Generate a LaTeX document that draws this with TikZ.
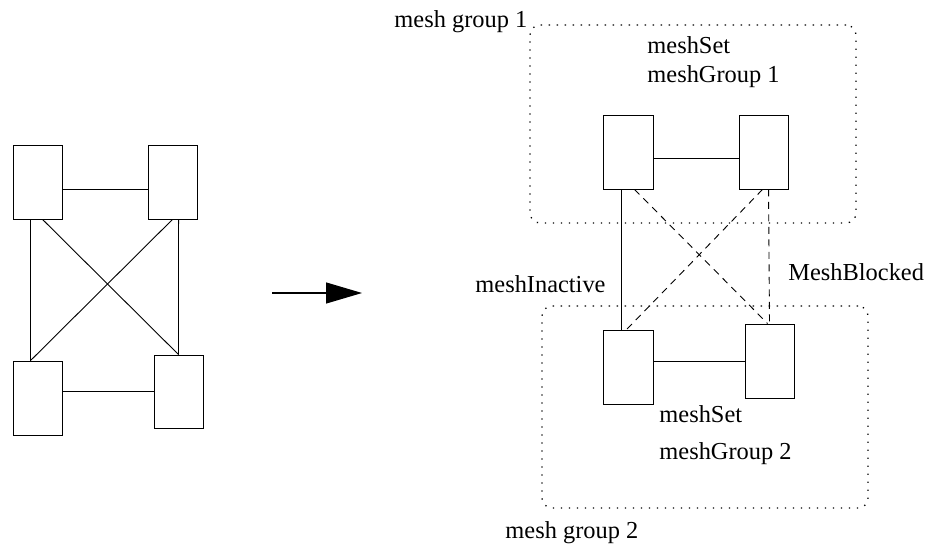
\documentclass[tikz,border=0pt]{standalone}
\usepackage{fontspec}
\setmainfont{Liberation Serif}
\usetikzlibrary{arrows.meta}
\begin{document}
\begin{tikzpicture}[x=1pt,y=-1pt,
  line width=0.9pt,
  rackbox/.style={draw, fill=white, rectangle, inner sep=0pt, minimum width=49pt, minimum height=74pt},
  groupbox/.style={draw, rectangle, rounded corners=10pt, inner sep=0pt, dash pattern=on 1.3pt off 6.7pt, line width=1.3pt},
  lbl/.style={anchor=base west, inner sep=0pt, font=\fontsize{24.4}{28}\selectfont},
  dsh/.style={dash pattern=on 7pt off 5.5pt}]
\useasboundingbox (0,0) rectangle (927,545);
% left diagram
\node[rackbox] (tl) at (37.5,182) {};
\node[rackbox] (tr) at (172.5,182) {};
\node[rackbox] (bl) at (37.5,398) {};
\node[rackbox, minimum height=73pt] (br) at (178.5,391.5) {};
\draw ([yshift=-7pt]tl.east) -- ([yshift=-7pt]tr.west);
\draw (br.west -| bl.east) -- (br.west);
\draw ([xshift=18pt]tl.south west) -- ([xshift=18pt]bl.north west);
\draw ([xshift=31pt]tr.south west) -- (br.north);
\draw ([xshift=30pt]tl.south west) -- (br.north);
\draw (tr.south) -- ([xshift=18pt]bl.north west);
% arrow
\coordinate (a1) at (272,293);
\coordinate (a2) at (362,293);
\draw[-{Triangle[length=36pt,width=21pt]}, line width=1.2pt] (a1) -- (a2);
% right diagram groups
\node[groupbox, minimum width=326pt, minimum height=198pt] (g1) at (693,124) {};
\node[groupbox, minimum width=326pt, minimum height=202pt] (g2) at (705,407) {};
\node[rackbox, minimum width=50pt] (A) at (628,152) {};
\node[rackbox] (B) at (763.5,152) {};
\node[rackbox, minimum width=50pt] (C) at (628,367) {};
\node[rackbox] (D) at (769.5,361) {};
\draw ([yshift=-6pt]A.east) -- ([yshift=-6pt]B.west);
\draw (D.west -| C.east) -- (D.west);
\draw ([xshift=19pt]A.south west) -- ([xshift=19pt]C.north west);
\draw[dsh] ([xshift=32pt]A.south west) -- ([xshift=23pt]D.north west);
\draw[dsh] ([xshift=24pt]B.south west) -- ([xshift=24pt]C.north west);
\draw[dsh] ([xshift=30pt]B.south west) -- (D.north);
% labels
\node[lbl] (lg1) at (394,28) {mesh group 1};
\node[lbl] (ms1) at (647,54) {meshSet};
\node[lbl] (mg1) at (647,83) {meshGroup 1};
\node[lbl] (mi) at (475,293) {meshInactive};
\node[lbl] (mb) at (788,281) {MeshBlocked};
\node[lbl] (ms2) at (659,423) {meshSet};
\node[lbl] (mg2) at (659,460) {meshGroup 2};
\node[lbl] (lg2) at (505,538) {mesh group 2};
\end{tikzpicture}
\end{document}
